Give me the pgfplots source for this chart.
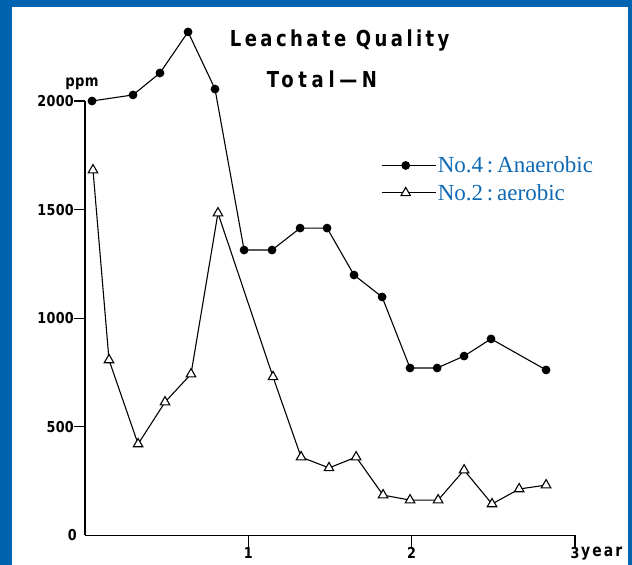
\documentclass[border=0pt]{standalone}
\usepackage{pgfplots}
\pgfplotsset{compat=1.18}
\usepackage{fontspec}
\setmainfont{Liberation Serif}
\newfontfamily\lett[FakeStretch=0.82,LetterSpace=15.5]{DejaVu Sans}
\newfontfamily\lettw[FakeStretch=0.82,LetterSpace=21]{DejaVu Sans}
\newfontfamily\yearf[FakeStretch=0.82,LetterSpace=12]{DejaVu Sans}
\newfontfamily\tickf[FakeStretch=0.85,LetterSpace=2]{DejaVu Sans}
\definecolor{framec}{RGB}{0,99,175}
\definecolor{legtext}{RGB}{15,105,180}
\begin{document}
\begin{tikzpicture}[x=1pt,y=1pt]
\fill[framec] (0,0) rectangle (632,565);
\fill[white] (12,0) rectangle (628,558);
\node[anchor=base,inner sep=0pt,font=\lett\bfseries\fontsize{22}{22}\selectfont] at (339.7,518) {Leachate Quality};
\node[anchor=base,inner sep=0pt,font=\lettw\bfseries\fontsize{22}{22}\selectfont] at (322,477) {Total—N};
\node[anchor=base,font=\tickf\bfseries\fontsize{15.5}{15.5}\selectfont] at (82,478) {ppm};
\begin{axis}[
  at={(85pt,29.5pt)}, anchor=origin,
  scale only axis, width=490pt, height=434.5pt,
  xmin=0, xmax=3, ymin=0, ymax=2000,
  axis lines=left,
  axis line style={-, line width=1.4pt},
  xtick={1,2,3}, xticklabels={1,2,3},
  ytick={500,1000,1500,2000},
  extra y ticks={0},
  extra y tick style={major tick length=0pt, yticklabel style={xshift=-8pt}},
  tick align=outside, major tick length=11pt,
  tick style={line width=1.2pt, black},
  ticklabel style={font=\tickf\bfseries\fontsize{15}{15}\selectfont},
  /pgf/number format/assume math mode=true,
  /pgf/number format/1000 sep={},
  yticklabel style={inner sep=0pt},
  xticklabel style={inner sep=1pt},
  clip=false,
  legend style={at={(0.604,0.82)}, anchor=west, draw=none, fill=none,
    inner sep=0pt, font=\fontsize{23}{26}\selectfont, text=legtext,
    row sep=7pt, nodes={inner sep=1.5pt}},
  legend cell align=left,
  legend image code/.code={
    \draw[mark repeat=2,mark phase=2,#1] plot coordinates {(0pt,0pt) (24pt,0pt) (54pt,0pt)};
  },
]
\addplot[black, line width=1.1pt, mark=*, mark size=3.8pt] coordinates {
(0.043,2000) (0.294,2028) (0.459,2129) (0.631,2318) (0.796,2055)
(0.974,1314) (1.145,1314) (1.317,1415) (1.482,1415) (1.647,1199)
(1.819,1098) (1.990,771) (2.156,771) (2.321,826) (2.486,905) (2.823,762)
};
\addlegendentry{No.4\,:\,Anaerobic}
\addplot[black, line width=1.1pt, mark=triangle*, mark size=5.5pt,
  mark options={fill=white, line width=1.1pt}] coordinates {
(0.049,1682) (0.147,808) (0.325,421) (0.490,614) (0.649,743)
(0.814,1484) (1.151,730) (1.323,361) (1.494,311) (1.660,361)
(1.825,186) (1.990,163) (2.162,163) (2.321,301) (2.492,145)
(2.658,214) (2.823,232)
};
\addlegendentry{No.2\,:\,aerobic}
\node[anchor=base west,inner sep=0pt,font=\yearf\bfseries\fontsize{17}{17}\selectfont] at (axis cs:3,0) [xshift=6pt,yshift=-21.5pt] {year};
\end{axis}
\end{tikzpicture}
\end{document}
